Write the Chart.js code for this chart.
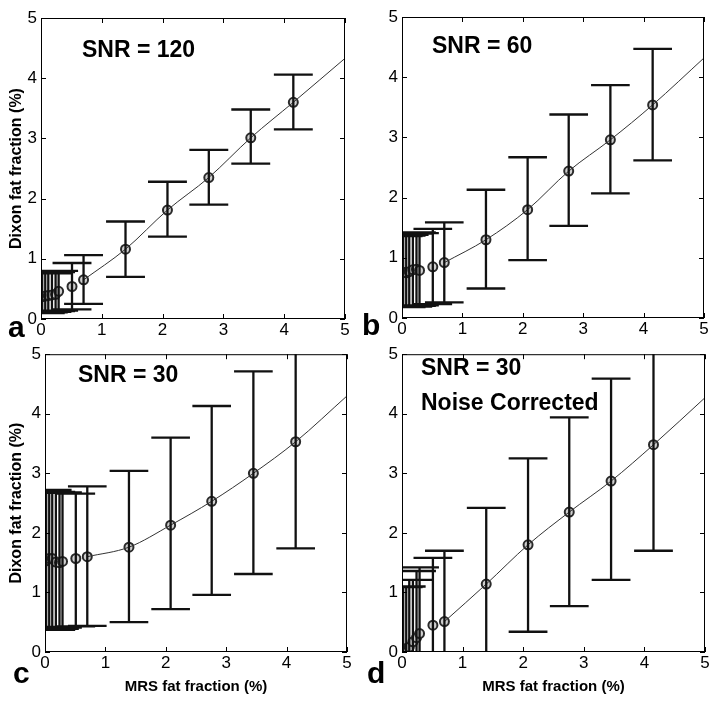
<!DOCTYPE html>
<html>
<head>
<meta charset="utf-8">
<script src="https://cdn.jsdelivr.net/npm/chart.js@4/dist/chart.umd.min.js"></script>
<style>
  body { margin: 0; background: #fff; }
  #wrap { position: relative; width: 719px; height: 705px; }
  canvas { position: absolute; }
</style>
</head>
<body>
<div id="wrap">
  <canvas id="pa" width="360" height="340" style="left:0;top:0"></canvas>
  <canvas id="pb" width="359" height="340" style="left:360px;top:0"></canvas>
  <canvas id="pc" width="360" height="365" style="left:0;top:340px"></canvas>
  <canvas id="pd" width="359" height="365" style="left:360px;top:340px"></canvas>
</div>
<script>
// MRS fat fraction (%) - same for all four panels
const mrsFat = [0.02, 0.07, 0.12, 0.18, 0.24, 0.29, 0.51, 0.70, 1.39, 2.08, 2.76, 3.45, 4.15];
// x values of the thin curve
const fitX = [0.70, 1.39, 2.08, 2.76, 3.45, 4.15, 5.0];
const axisTicks = [0, 1, 2, 3, 4, 5];

// a: SNR = 120
const dixonA = [0.37, 0.38, 0.39, 0.40, 0.41, 0.46, 0.54, 0.65, 1.16, 1.81, 2.35, 3.01, 3.60];
const upperA = [0.78, 0.78, 0.77, 0.76, 0.78, 0.80, 0.93, 1.06, 1.62, 2.28, 2.81, 3.48, 4.06];
const lowerA = [0.10, 0.10, 0.11, 0.12, 0.13, 0.14, 0.16, 0.25, 0.70, 1.37, 1.90, 2.58, 3.15];
const fitA = [0.65, 1.16, 1.81, 2.35, 3.01, 3.60, 4.33];

// b: SNR = 60
const dixonB = [0.76, 0.75, 0.77, 0.80, 0.81, 0.79, 0.85, 0.92, 1.30, 1.80, 2.44, 2.96, 3.54];
const upperB = [1.36, 1.37, 1.38, 1.40, 1.42, 1.41, 1.48, 1.59, 2.13, 2.67, 3.38, 3.87, 4.47];
const lowerB = [0.18, 0.18, 0.19, 0.19, 0.20, 0.21, 0.23, 0.26, 0.49, 0.96, 1.53, 2.07, 2.62];
const fitB = [0.92, 1.30, 1.80, 2.44, 2.96, 3.54, 4.32];

// c: SNR = 30
const dixonC = [1.53, 1.57, 1.57, 1.51, 1.50, 1.52, 1.57, 1.60, 1.76, 2.13, 2.53, 3.00, 3.53];
const upperC = [2.70, 2.72, 2.72, 2.69, 2.67, 2.68, 2.66, 2.78, 3.04, 3.60, 4.13, 4.71, 5.32];
const lowerC = [0.37, 0.40, 0.42, 0.37, 0.39, 0.41, 0.43, 0.44, 0.50, 0.72, 0.96, 1.31, 1.74];
const fitC = [1.60, 1.76, 2.13, 2.53, 3.00, 3.53, 4.30];

// d: SNR = 30, noise corrected
const dixonD = [0.05, 0.06, 0.08, 0.17, 0.24, 0.31, 0.45, 0.51, 1.14, 1.80, 2.35, 2.87, 3.48];
const upperD = [1.09, 1.10, 1.21, 1.21, 1.36, 1.42, 1.58, 1.70, 2.42, 3.25, 3.94, 4.59, 5.26];
const lowerD = [-0.99, -0.98, -1.05, -0.87, -0.88, -0.80, -0.68, -0.68, -0.14, 0.34, 0.77, 1.21, 1.70];
const fitD = [0.51, 1.14, 1.80, 2.35, 2.87, 3.48, 4.27];

Chart.defaults.font.family = '"Liberation Sans", Arial, sans-serif';
Chart.defaults.color = '#000';

const capHalf = 0.32; // half width of error bar caps, in x units

// error bars as one broken line: top cap, stem, bottom cap
function errorBarPoints(xs, lo, hi) {
    const pts = [];
    xs.forEach((x, i) => {
        pts.push({x: x - capHalf, y: hi[i]}, {x: x + capHalf, y: hi[i]}, {x: x, y: null});
        pts.push({x: x, y: hi[i]}, {x: x, y: lo[i]}, {x: x, y: null});
        pts.push({x: x - capHalf, y: lo[i]}, {x: x + capHalf, y: lo[i]}, {x: x, y: null});
    });
    return pts;
}

function toXY(xs, ys) {
    return xs.map((x, i) => ({x: x, y: ys[i]}));
}

// box around the plot with inward ticks, plus the text labels
const framePlugin = {
    id: 'frame',
    afterDatasetsDraw(chart, args, opts) {
        const {ctx, chartArea: a, scales: {x, y}} = chart;
        ctx.save();
        ctx.strokeStyle = '#000';
        ctx.lineWidth = 1;
        ctx.strokeRect(a.left + 0.5, a.top + 0.5, a.width - 1, a.height - 1);
        ctx.beginPath();
        x.ticks.forEach(t => {
            const px = Math.round(x.getPixelForValue(t.value)) + 0.5;
            ctx.moveTo(px, a.bottom); ctx.lineTo(px, a.bottom - 5);
            ctx.moveTo(px, a.top); ctx.lineTo(px, a.top + 5);
        });
        y.ticks.forEach(t => {
            const py = Math.round(y.getPixelForValue(t.value)) + 0.5;
            ctx.moveTo(a.left, py); ctx.lineTo(a.left + 5, py);
            ctx.moveTo(a.right, py); ctx.lineTo(a.right - 5, py);
        });
        ctx.stroke();
        ctx.fillStyle = '#000';
        ctx.textBaseline = 'alphabetic';
        ctx.textAlign = 'left';
        (opts.labels || []).forEach(l => {
            ctx.font = l.font;
            ctx.fillText(l.text, l.x, l.y);
        });
        ctx.restore();
    }
};

function makePanel(id, dixon, lower, upper, fit, p) {
    const ctx = document.getElementById(id).getContext('2d');
    return new Chart(ctx, {
        type: 'scatter',
        data: {
            datasets: [{
                // error bars
                data: errorBarPoints(mrsFat, lower, upper),
                showLine: true,
                spanGaps: false,
                borderColor: '#111',
                borderWidth: 2.3,
                pointRadius: 0,
                clip: 0
            }, {
                // thin curve
                data: toXY(fitX, fit),
                showLine: true,
                borderColor: '#333',
                borderWidth: 1,
                cubicInterpolationMode: 'monotone',
                pointRadius: 0,
                clip: 0
            }, {
                // markers
                data: toXY(mrsFat, dixon),
                pointStyle: 'circle',
                pointRadius: 4.5,
                borderWidth: 2,
                borderColor: '#2a2a2a',
                backgroundColor: '#cfcfcf',
                clip: 0
            }, {
                data: toXY(mrsFat, dixon),
                pointStyle: 'crossRot',
                pointRadius: 2.2,
                borderWidth: 1,
                borderColor: '#444',
                clip: 0
            }]
        },
        options: {
            responsive: false,
            animation: false,
            events: [],
            layout: { padding: {left: 0, top: p.top, right: p.right, bottom: 0} },
            plugins: {
                legend: { display: false },
                tooltip: { enabled: false },
                frame: { labels: p.labels }
            },
            scales: {
                x: {
                    type: 'linear',
                    min: 0, max: 5,
                    afterBuildTicks: s => { s.ticks = axisTicks.map(v => ({value: v})); },
                    afterFit: s => { s.height = p.xh; },
                    grid: { display: false, drawTicks: false },
                    border: { display: false },
                    ticks: { font: {size: 17}, padding: 1, maxRotation: 0 },
                    title: {
                        display: !!p.xTitle,
                        text: p.xTitle || '',
                        font: {size: 15, weight: 'bold'},
                        padding: {top: 0, bottom: 9}
                    }
                },
                y: {
                    type: 'linear',
                    min: 0, max: 5,
                    afterBuildTicks: s => { s.ticks = axisTicks.map(v => ({value: v})); },
                    afterFit: s => { s.width = p.yw; },
                    grid: { display: false, drawTicks: false },
                    border: { display: false },
                    ticks: { font: {size: 17}, padding: 4 },
                    title: {
                        display: !!p.yTitle,
                        text: p.yTitle || '',
                        font: {size: 16, weight: 'bold'},
                        padding: {top: 7, bottom: 0}
                    }
                }
            }
        },
        plugins: [framePlugin]
    });
}

const big = 'bold 23px "Liberation Sans", Arial, sans-serif';
const letter = 'bold 30px "Liberation Sans", Arial, sans-serif';

makePanel('pa', dixonA, lowerA, upperA, fitA, {
    top: 18, right: 15, yw: 41, xh: 21,
    yTitle: 'Dixon fat fraction (%)',
    labels: [
        {text: 'SNR = 120', x: 82, y: 57, font: big},
        {text: 'a', x: 8, y: 337, font: letter}
    ]
});
makePanel('pb', dixonB, lowerB, upperB, fitB, {
    top: 17, right: 15, yw: 42, xh: 22,
    labels: [
        {text: 'SNR = 60', x: 72, y: 53, font: big},
        {text: 'b', x: 2, y: 335, font: letter}
    ]
});
makePanel('pc', dixonC, lowerC, upperC, fitC, {
    top: 11, right: 13, yw: 45, xh: 53,
    yTitle: 'Dixon fat fraction (%)',
    xTitle: 'MRS fat fraction (%)',
    labels: [
        {text: 'SNR = 30', x: 78, y: 42, font: big},
        {text: 'c', x: 13, y: 343, font: letter}
    ]
});
makePanel('pd', dixonD, lowerD, upperD, fitD, {
    top: 11, right: 14, yw: 42, xh: 53,
    xTitle: 'MRS fat fraction (%)',
    labels: [
        {text: 'SNR = 30', x: 61, y: 35, font: big},
        {text: 'Noise Corrected', x: 61, y: 70, font: big},
        {text: 'd', x: 7, y: 343, font: letter}
    ]
});
</script>
</body>
</html>
